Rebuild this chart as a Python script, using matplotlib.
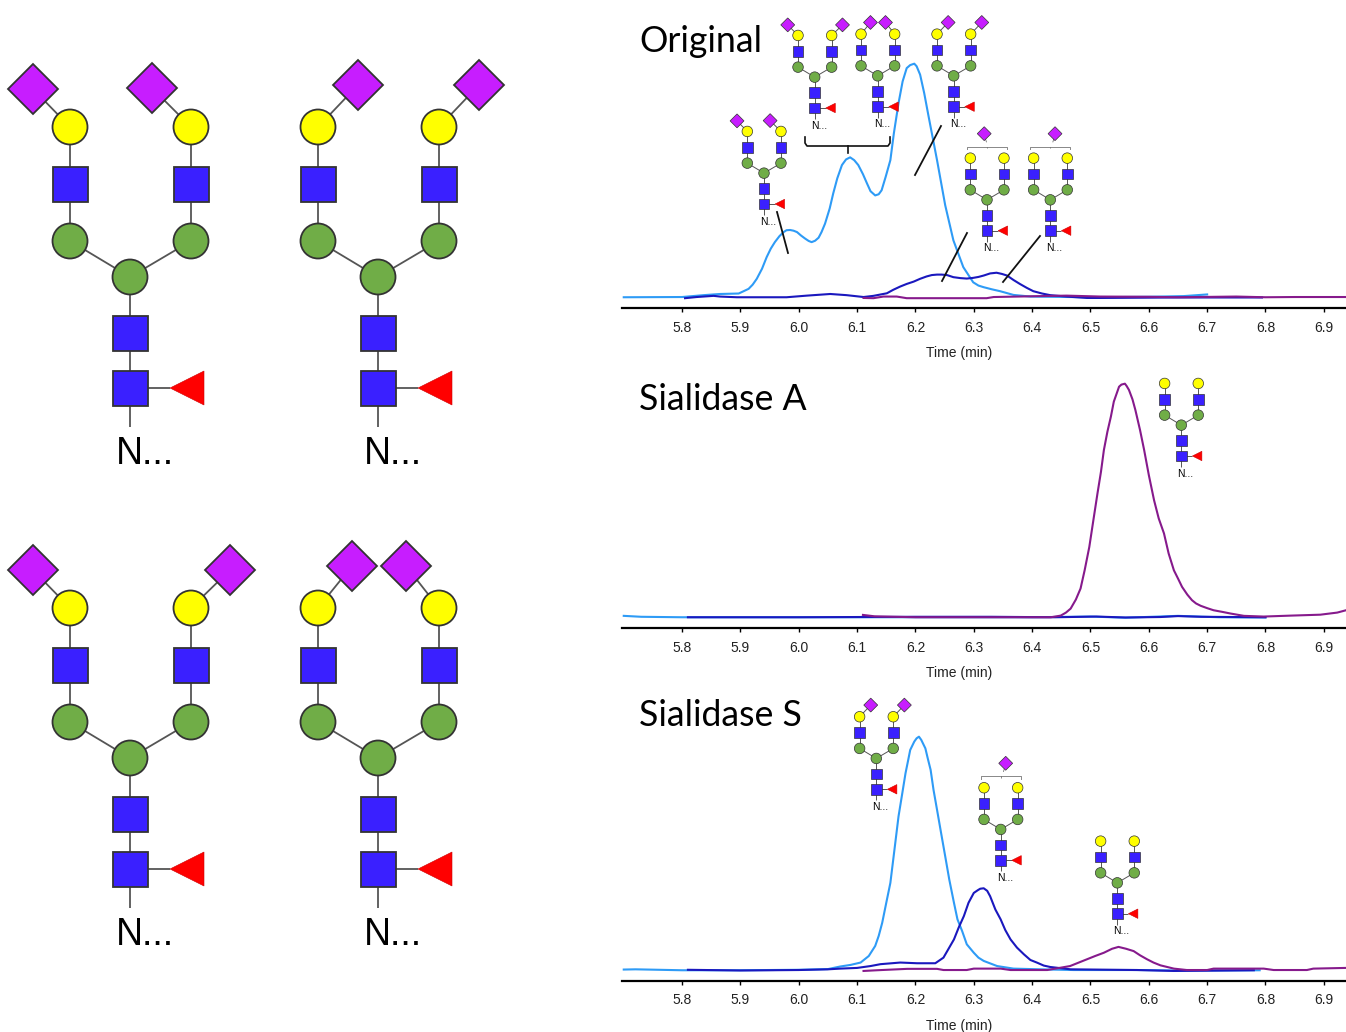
import matplotlib
matplotlib.use("Agg")
from matplotlib import pyplot as plt
from matplotlib.patches import Circle, Polygon, Rectangle

plt.rcParams['font.family'] = ['Liberation Sans', 'DejaVu Sans']

W, H = 1346, 1032

# chromatogram values, time in min and relative abundance in %
orig_light_t = [5.70, 5.80, 5.837, 5.865, 5.897, 5.914, 5.921, 5.928, 5.937, 5.945, 5.952, 5.959, 5.967, 5.974,
                5.979, 5.985, 5.991, 5.997, 6.004, 6.011, 6.017, 6.022, 6.028, 6.034, 6.039, 6.045, 6.053, 6.059,
                6.066, 6.074, 6.081, 6.088, 6.095, 6.102, 6.11, 6.117, 6.123, 6.131, 6.137, 6.142, 6.149, 6.157,
                6.163, 6.171, 6.178, 6.185, 6.191, 6.198, 6.202, 6.208, 6.215, 6.222, 6.237, 6.251, 6.265, 6.282,
                6.299, 6.308, 6.317, 6.331, 6.345, 6.368, 6.397, 6.5, 6.6, 6.66, 6.70]
orig_light_y = [0, 0.1, 0.9, 1.4, 1.6, 3.6, 5.4, 7.9, 12.2, 17.2, 20.8, 23.6, 26.2, 27.9,
                28.7, 28.8, 28.5, 27.9, 26.4, 25.1, 24.1, 23.6, 24.2, 25.5, 27.9, 31.5, 38, 44.4,
                50.9, 56.6, 59, 59.9, 58.7, 56.6, 52.7, 48.7, 45.4, 43.6, 44.1, 45.8, 51.6, 58.7,
                70.2, 83.1, 92.4, 98.1, 99.4, 100, 98.9, 95.3, 87.4, 78.1, 58.7, 39.4, 24.4, 12.9,
                6.4, 5, 4.3, 3.4, 2.6, 1.0, 0.3, 0, 0.2, 0.5, 1.2]
orig_dark_t = [5.805, 5.825, 5.854, 5.865, 5.894, 5.979, 6.014, 6.054, 6.082, 6.111, 6.128, 6.151, 6.162, 6.174,
               6.185, 6.197, 6.208, 6.219, 6.228, 6.237, 6.245, 6.254, 6.265, 6.277, 6.288, 6.299, 6.308, 6.317,
               6.328, 6.339, 6.348, 6.357, 6.368, 6.379, 6.391, 6.402, 6.417, 6.431, 6.459, 6.494, 6.517, 6.65,
               6.794]
orig_dark_y = [-0.4, 0.1, 0.6, 0.3, 0, 0, 0.7, 1.4, 0.9, 0.1, 0.6, 1.7, 3.2, 4.6,
               5.7, 6.7, 7.9, 8.9, 9.5, 9.7, 9.7, 9.5, 8.6, 8.2, 8, 8.3, 8.7, 9.3,
               10.2, 10.5, 10, 9.3, 7.4, 5.7, 4, 2.6, 1.6, 0.9, 0.3, -0.3, -0.3, -0.1,
               -0.1]
orig_purple_t = [6.111, 6.128, 6.145, 6.168, 6.185, 6.265, 6.322, 6.334, 6.437, 6.459, 6.517, 6.6, 6.65, 6.75,
                 6.8, 6.85, 6.94]
orig_purple_y = [-0.3, -0.4, 0.3, 0.3, -0.4, -0.4, -0.4, 0.1, 0.6, 0.7, 0.3, 0.2, 0, 0.3,
                 0, 0.1, 0.1]

siaa_light_t = [5.70, 5.73, 5.80, 6.0, 6.2, 6.4, 6.5, 6.56, 6.65, 6.72, 6.8]
siaa_light_y = [0.6, 0.2, 0, 0, 0, 0, 0.3, -0.2, 0.6, 0, -0.1]
siaa_dark_t = [5.81, 6.0, 6.2, 6.33, 6.44, 6.51, 6.56, 6.62, 6.65, 6.69, 6.8]
siaa_dark_y = [0, 0, 0.2, 0.2, 0, 0.3, -0.1, 0.1, 0.5, 0.2, 0]
siaa_purple_t = [6.11, 6.13, 6.2, 6.3, 6.432, 6.449, 6.458, 6.466, 6.475, 6.483, 6.49, 6.498, 6.505, 6.512,
                 6.518, 6.523, 6.529, 6.535, 6.54, 6.549, 6.553, 6.559, 6.562, 6.566, 6.572, 6.577, 6.585, 6.592,
                 6.6, 6.609, 6.617, 6.626, 6.634, 6.643, 6.65, 6.657, 6.666, 6.674, 6.681, 6.689, 6.7, 6.711,
                 6.726, 6.74, 6.763, 6.797, 6.843, 6.894, 6.923, 6.938]
siaa_purple_y = [1.0, 0.4, 0, 0, 0, 0.7, 2, 3.7, 7.6, 12.3, 20.1, 30.1, 41.6, 53,
                 62.3, 71.6, 79.4, 85.9, 92.3, 98.7, 99.6, 100, 99, 97.3, 93.3, 88.7, 80.1, 71.6,
                 60.9, 50.1, 42.3, 35.9, 27.3, 20.1, 16.6, 13, 9.7, 7.3, 5.9, 4.9, 3.9, 3,
                 2.3, 1.6, 0.6, 0.3, 0.7, 1.1, 2, 3]

sias_light_t = [5.70, 5.72, 5.76, 5.80, 5.90, 6.0, 6.05, 6.071, 6.089, 6.106, 6.12, 6.131, 6.137, 6.143, 6.15,
                6.157, 6.164, 6.171, 6.177, 6.183, 6.187, 6.191, 6.198, 6.202, 6.206, 6.21, 6.217, 6.221, 6.226,
                6.231, 6.237, 6.244, 6.251, 6.258, 6.266, 6.272, 6.28, 6.288, 6.3, 6.308, 6.317, 6.34, 6.368,
                6.414, 6.471, 6.58, 6.643, 6.7, 6.79]
sias_light_y = [0.3, 0.4, 0.2, 0, 0, 0.2, 0.5, 1.6, 2.3, 3.3, 6.1, 10.4, 14.7, 20.3, 28.9,
                37.4, 51.6, 65.9, 75.1, 84.4, 89.3, 94.3, 97.9, 99.3, 100, 98.6, 95, 90.8, 85.8,
                77.2, 68.7, 58.7, 48.8, 38.8, 28.9, 21.8, 16.8, 11.1, 7.5, 5.4, 4, 1.8, 0.7,
                0.4, 0.1, 0.1, -0.1, -0.1, 0]
sias_dark_t = [5.81, 5.90, 6.0, 6.05, 6.071, 6.1, 6.123, 6.14, 6.174, 6.203, 6.234, 6.248, 6.266, 6.274, 6.283,
               6.291, 6.3, 6.307, 6.311, 6.317, 6.323, 6.328, 6.337, 6.346, 6.354, 6.363, 6.374, 6.386, 6.397,
               6.408, 6.42, 6.431, 6.466, 6.58, 6.643, 6.78]
sias_dark_y = [0.2, -0.1, 0.1, 0.4, 0.7, 1, 1.8, 2.6, 3.3, 3, 3, 5.4, 13.2, 18.2, 23.2,
               28.9, 33.1, 34.3, 34.9, 35.1, 34, 31.7, 26, 21.8, 17.2, 13.2, 9.7, 6.8, 4.4,
               3.3, 2, 1.4, 0.4, 0.1, -0.3, 0]
sias_purple_t = [6.111, 6.134, 6.186, 6.237, 6.248, 6.288, 6.3, 6.346, 6.363, 6.426, 6.465, 6.48, 6.494, 6.508,
                 6.523, 6.537, 6.548, 6.561, 6.574, 6.585, 6.597, 6.608, 6.62, 6.643, 6.665, 6.7, 6.711, 6.797,
                 6.814, 6.871, 6.882, 6.938]
sias_purple_y = [-0.3, 0, 0.6, 0.6, 0.1, 0.1, 0.7, 0.7, 0.1, 0.1, 1.8, 3.3, 4.7, 6.1,
                 7.5, 9.2, 10, 9.2, 8.2, 6.4, 4.7, 3.3, 2.1, 0.7, 0.1, 0.1, 0.7, 0.7,
                 0.1, 0.1, 0.7, 1]

time_ticks = [5.8, 5.9, 6.0, 6.1, 6.2, 6.3, 6.4, 6.5, 6.6, 6.7, 6.8, 6.9]
panel_titles = ["Original", "Sialidase A", "Sialidase S"]

LIGHT = '#2E9BF6'
DARK = '#1A18BE'
PURPLE = '#861A8C'
LINK = '#555555'
EDGE = '#333333'


def make_panel(fig, spine_y, title, title_y, traces):
    height = 256
    ax = fig.add_axes([622 / W, 1 - spine_y / H, 724 / W, height / H])
    for t, y, c in traces:
        ax.plot(t, y, color=c, lw=1.5, solid_joinstyle='round')
    ax.set_xlim(5.697, 6.938)
    ax.set_ylim(-4.6, 105)
    ax.set_xticks(time_ticks)
    ax.set_xticklabels([f'{t:.1f}' for t in time_ticks], fontsize=10, color='#222222')
    ax.tick_params(axis='x', length=3, width=1, pad=6)
    ax.set_yticks([])
    for side in ['top', 'left', 'right']:
        ax.spines[side].set_visible(False)
    ax.spines['bottom'].set_linewidth(1.6)
    ax.patch.set_alpha(0)
    ax.set_xlabel("Time (min)", fontsize=10, color='#222222')
    ax.xaxis.set_label_coords((959 - 622) / 724, -45 / height)
    ax.xaxis.label.set_verticalalignment('center')
    fig.text(639 / W, 1 - title_y / H, title, fontsize=25.7, family='Lato', va='center', ha='left', color='black')
    return ax


def link(ax, x0, y0, x1, y1, lw):
    ax.plot([x0, x1], [y0, y1], color=LINK, lw=lw, zorder=3, solid_capstyle='butt')


def circle(ax, x, y, r, color, lw):
    ax.add_patch(Circle((x, y), r, fc=color, ec=EDGE, lw=lw, zorder=4))


def square(ax, x, y, r, lw):
    ax.add_patch(Rectangle((x - r, y - r), 2 * r, 2 * r, fc='#3A20FF', ec=EDGE, lw=lw, zorder=4))


def diamond(ax, x, y, r, lw):
    pts = [(x - r, y), (x, y - r), (x + r, y), (x, y + r)]
    ax.add_patch(Polygon(pts, closed=True, fc='#C71DFF', ec=EDGE, lw=lw, zorder=4))


def glycan(ax, cx, cy, s=1.0, sia_left=None, sia_right=None, bracket_sia=None):
    # cx, cy is the centre of the core square; everything else hangs off it
    big = s == 1.0
    lw = 1.3 if big else 0.7
    edge = 1.3 if big else 0.5
    r = 17.5 * s if big else 19 * s

    def p(dx, dy):
        return cx + dx * s, cy + dy * s

    xl, xr = -60, 61
    # stalk
    link(ax, *p(0, 39), *p(0, -111), lw)
    link(ax, *p(0, -111), *p(xl, -147), lw)
    link(ax, *p(0, -111), *p(xr, -147), lw)
    link(ax, *p(xl, -147), *p(xl, -261), lw)
    link(ax, *p(xr, -147), *p(xr, -261), lw)
    link(ax, *p(0, 0), *p(40, 0), lw)

    square(ax, *p(0, 0), r, edge)
    square(ax, *p(0, -55), r, edge)
    circle(ax, *p(0, -111), r, '#70AD47', edge)
    for x in (xl, xr):
        circle(ax, *p(x, -147), r, '#70AD47', edge)
        square(ax, *p(x, -204), r, edge)
        circle(ax, *p(x, -261), r, '#FFFF00', edge)

    tri = [p(40, 0), p(74, -17), p(74, 17)]
    ax.add_patch(Polygon(tri, closed=True, fc='#FF0000', ec='#CC0000', lw=0.4, zorder=4))

    ax.text(*p(14.5, 66 if big else 63), "N...", fontsize=27 * s, ha='center', va='center', color='black', zorder=5)

    for x, off in ((xl, sia_left), (xr, sia_right)):
        if off is not None:
            dx, dy = off
            link(ax, *p(x, -261), *p(x + dx, -261 + dy), lw)
            diamond(ax, *p(x + dx, -261 + dy), 25 * s, edge)

    if bracket_sia is not None:
        bx = [p(-72, -294), p(-72, -302), p(72, -302), p(72, -294)]
        ax.plot([q[0] for q in bx], [q[1] for q in bx], color='#888888', lw=0.7, zorder=3)
        link(ax, *p(0, -302), *p(0, -296), 0.5)
        dx = bracket_sia
        link(ax, *p(dx, -349), *p(dx + (8 if dx < 0 else -8), -318), 0.5)
        diamond(ax, *p(dx, -349), 25 * s, edge)


fig = plt.figure(figsize=(W / 100, H / 100), dpi=100, facecolor='white')

make_panel(fig, 308, panel_titles[0], 41, [
    (orig_light_t, orig_light_y, LIGHT),
    (orig_dark_t, orig_dark_y, DARK),
    (orig_purple_t, orig_purple_y, PURPLE),
])
make_panel(fig, 628, panel_titles[1], 399, [
    (siaa_light_t, siaa_light_y, LIGHT),
    (siaa_dark_t, siaa_dark_y, DARK),
    (siaa_purple_t, siaa_purple_y, PURPLE),
])
make_panel(fig, 981, panel_titles[2], 716, [
    (sias_light_t, sias_light_y, LIGHT),
    (sias_dark_t, sias_dark_y, DARK),
    (sias_purple_t, sias_purple_y, PURPLE),
])

# overlay in picture pixels for the glycan cartoons and leader lines
art = fig.add_axes([0, 0, 1, 1], zorder=10)
art.set_xlim(0, W)
art.set_ylim(H, 0)
art.axis('off')

OUT_L = (-37, -38)
OUT_R = (-39, -39)
RIGHT_L = (40, -42)
RIGHT_R = (40, -42)
IN_L = (34, -42)
IN_R = (-33, -42)
WIDE_R = (39, -38)

# large structures on the left
glycan(art, 130, 388, 1.0, OUT_L, OUT_R)
glycan(art, 378, 388, 1.0, RIGHT_L, RIGHT_R)
glycan(art, 130, 869, 1.0, OUT_L, WIDE_R)
glycan(art, 378, 869, 1.0, IN_L, IN_R)

# small structures on the chromatograms
S = 0.278
glycan(art, 764, 204, S, OUT_L, OUT_R)
glycan(art, 814.7, 108, S, OUT_L, WIDE_R)
glycan(art, 877.7, 106.7, S, IN_L, IN_R)
glycan(art, 953.7, 106.7, S, RIGHT_L, RIGHT_R)
glycan(art, 987, 230.7, S, bracket_sia=-10)
glycan(art, 1050.3, 230.7, S, bracket_sia=17)
glycan(art, 1181.3, 456, S)
glycan(art, 876.3, 789.3, S, RIGHT_L, RIGHT_R)
glycan(art, 1000.7, 860.3, S, bracket_sia=18)
glycan(art, 1117.3, 913.7, S)

# leader lines and the brace
for x0, y0, x1, y1 in [(777, 212, 788, 253), (915, 175, 941, 126), (942, 281, 967, 233), (1003, 282, 1040, 236)]:
    art.plot([x0, x1], [y0, y1], color='#111111', lw=1.3, zorder=6)
art.plot([805, 805, 807, 888, 890, 890], [137, 143, 146, 146, 143, 137], color='#111111', lw=1.2, zorder=6)
art.plot([847.5, 847.5], [146, 153], color='#111111', lw=1.2, zorder=6)

fig.savefig('out.png', dpi=100)
